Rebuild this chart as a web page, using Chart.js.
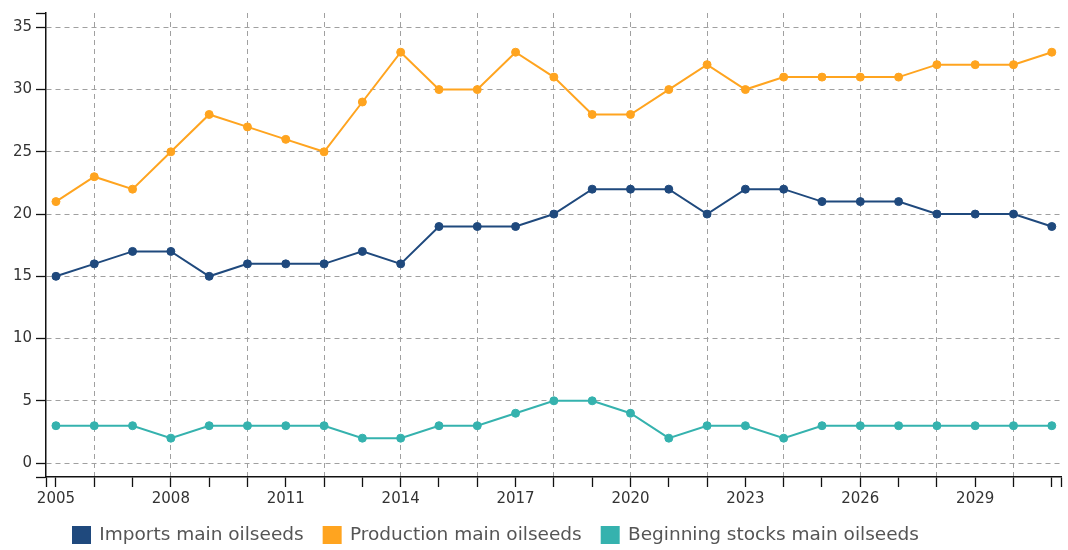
<!DOCTYPE html>
<html><head><meta charset="utf-8">
<script src="https://cdn.jsdelivr.net/npm/chart.js@4.4.1/dist/chart.umd.min.js"></script>
<style>html,body{margin:0;padding:0;background:#fff}</style>
</head><body>
<canvas id="c" width="1068" height="550"></canvas>
<script>
const years = [2005,2006,2007,2008,2009,2010,2011,2012,2013,2014,2015,2016,2017,2018,2019,2020,2021,2022,2023,2024,2025,2026,2027,2028,2029,2030,2031];
const imports    = [15,16,17,17,15,16,16,16,17,16,19,19,19,20,22,22,22,20,22,22,21,21,21,20,20,20,19];
const production = [21,23,22,25,28,27,26,25,29,33,30,30,33,31,28,28,30,32,30,31,31,31,31,32,32,32,33];
const stocks     = [3,3,3,2,3,3,3,3,2,2,3,3,4,5,5,4,2,3,3,2,3,3,3,3,3,3,3];
const seriesNames = ['Imports main oilseeds','Production main oilseeds','Beginning stocks main oilseeds'];
const seriesColors = ['#1f497d','#ffa41f','#35b2ae'];
const xLabelYears = [2005,2008,2011,2014,2017,2020,2023,2026,2029];
const xGridYears = [2006,2008,2010,2012,2014,2016,2018,2020,2022,2024,2026,2028,2030];
const yTickValues = [0,5,10,15,20,25,30,35];
const xBounds = [2004.74, 2031.24];
const yBounds = [-1.12, 36.15];

const FONT = 'DejaVu Sans';
const toPts = arr => years.map((yr, i) => ({x: yr, y: arr[i]}));
const mk = (i, arr) => ({
  label: seriesNames[i], data: toPts(arr),
  borderColor: seriesColors[i], backgroundColor: seriesColors[i],
  borderWidth: 2, pointRadius: 4, pointBorderWidth: 1, pointHoverRadius: 4, tension: 0
});

const shiftLegend = {
  id: 'shiftLegend',
  afterLayout(chart) {
    const l = chart.legend;
    if (l) {
      const dx = 53, dy = 4.25;
      l.left += dx; l.right += dx; l.top += dy; l.bottom += dy;
    }
    const xs = chart.scales.x;
    if (xs) { xs.bottom += 30; }
  }
};

new Chart(document.getElementById('c'), {
  type: 'line',
  data: { datasets: [mk(0, imports), mk(1, production), mk(2, stocks)] },
  plugins: [shiftLegend],
  options: {
    responsive: false, animation: false, devicePixelRatio: 1,
    layout: { padding: { top: 11, right: 7, left: 0, bottom: 0 } },
    plugins: {
      tooltip: { enabled: false },
      legend: {
        position: 'bottom', align: 'start',
        labels: { boxWidth: 17, boxHeight: 16, padding: 20, color: '#555', font: { family: FONT, size: 18.5 } }
      }
    },
    scales: {
      x: {
        type: 'linear', min: xBounds[0], max: xBounds[1],
        afterBuildTicks: s => { s.ticks = [xBounds[0], ...years, xBounds[1]].map(v => ({value: v})); },
        afterFit: s => { s.height = 24.5; },
        ticks: { autoSkip: false, maxRotation: 0, minRotation: 0, padding: 3, color: '#333',
          font: { family: FONT, size: 15 },
          callback: v => xLabelYears.includes(v) ? String(v) : '' },
        grid: { color: c => (c.tick && xGridYears.includes(c.tick.value)) ? '#a0a0a0' : 'rgba(0,0,0,0)',
          lineWidth: 1, tickColor: '#111', tickLength: 10, tickWidth: 1.3 },
        border: { display: true, color: '#111', width: 1.5, dash: [5, 4] }
      },
      y: {
        type: 'linear', min: yBounds[0], max: yBounds[1],
        afterBuildTicks: s => { s.ticks = [yBounds[0], ...yTickValues, yBounds[1]].map(v => ({value: v})); },
        afterFit: s => { s.width = 46; },
        ticks: { autoSkip: false, padding: 4, color: '#333', font: { family: FONT, size: 15 },
          callback: v => yTickValues.includes(v) ? String(v) : '' },
        grid: { color: c => (c.tick && yTickValues.includes(c.tick.value)) ? '#a0a0a0' : 'rgba(0,0,0,0)',
          lineWidth: 1, tickColor: '#111', tickLength: 10, tickWidth: 1.3 },
        border: { display: true, color: '#111', width: 1.5, dash: [5, 4] }
      }
    }
  }
});
</script>
</body></html>
